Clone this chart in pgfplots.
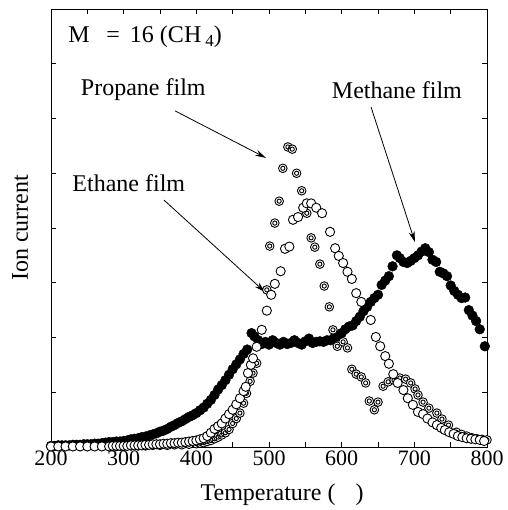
\documentclass[border=0pt]{standalone}
\usepackage{pgfplots}
\pgfplotsset{compat=1.18}
\usepackage{pgfplotstable}
\usepackage{fontspec}
\setmainfont{Liberation Serif}
\usetikzlibrary{arrows.meta}

% methane film (filled circles)
\pgfplotstableread{
T I
200 0.02
205 0.02
210 0.03
215 0.03
220 0.03
225 0.03
230 0.04
235 0.04
240 0.04
245 0.05
250 0.05
255 0.05
260 0.06
265 0.06
270 0.07
275 0.08
280 0.09
285 0.09
290 0.10
295 0.10
300 0.11
305 0.12
310 0.14
315 0.15
320 0.16
325 0.18
330 0.19
335 0.21
340 0.23
345 0.25
350 0.28
355 0.30
360 0.33
365 0.37
370 0.40
375 0.44
380 0.47
385 0.51
390 0.55
395 0.58
400 0.62
405 0.67
410 0.72
415 0.79
420 0.86
425 0.95
430 1.05
435 1.13
440 1.22
445 1.32
450 1.42
455 1.51
460 1.60
465 1.70
470 1.78
476 2.08
480 2.02
485 1.95
490 1.88
495 1.92
500 1.87
505 1.95
510 1.90
515 1.87
520 1.92
525 1.88
530 1.90
535 1.95
540 1.90
545 1.87
550 1.93
555 1.98
560 1.90
565 1.92
570 1.93
575 1.92
580 1.95
585 1.95
590 2.00
595 2.03
600 2.08
605 2.15
610 2.20
615 2.22
620 2.30
625 2.38
630 2.48
635 2.56
640 2.65
645 2.72
650 2.78
655 2.96
660 3.04
665 3.12
670 3.30
676 3.50
680 3.45
685 3.38
690 3.36
695 3.40
700 3.45
705 3.50
710 3.57
715 3.63
720 3.56
725 3.42
730 3.38
735 3.20
740 3.17
745 3.12
750 2.95
755 2.85
760 2.78
765 2.72
770 2.73
775 2.50
780 2.40
785 2.30
790 2.15
797 1.84
}\methane

% ethane film (open circles)
\pgfplotstableread{
T I
200 0.01
210 0.01
220 0.01
230 0.01
240 0.01
250 0.01
260 0.01
270 0.01
280 0.01
285 0.02
290 0.02
295 0.02
300 0.02
305 0.02
310 0.03
315 0.03
320 0.03
325 0.03
330 0.04
335 0.04
340 0.05
345 0.05
350 0.05
355 0.06
360 0.06
365 0.07
370 0.07
375 0.08
380 0.08
385 0.09
390 0.10
395 0.11
400 0.12
405 0.14
410 0.16
415 0.20
420 0.26
425 0.33
430 0.38
435 0.43
440 0.52
445 0.60
450 0.68
455 0.78
460 0.89
465 1.02
468 1.10
471 1.35
475 1.50
478 1.62
483 1.83
490 2.14
497 2.49
503 2.78
508 2.98
516 3.21
522 3.62
528 3.66
533 4.15
540 4.20
547 4.37
552 4.45
558 4.45
565 4.37
573 4.27
584 3.93
591 3.63
596 3.49
602 3.36
608 3.20
614 3.07
620 2.81
627 2.65
640 2.32
647 2.01
653 1.84
660 1.66
665 1.52
671 1.33
677 1.17
685 1.04
691 0.89
698 0.77
705 0.64
712 0.60
718 0.52
725 0.45
731 0.40
737 0.35
742 0.31
748 0.27
754 0.24
760 0.20
766 0.18
772 0.16
778 0.15
784 0.14
790 0.13
796 0.11
}\ethane

% propane film (double circles)
\pgfplotstableread{
T I
200 0.01
210 0.01
220 0.01
230 0.01
240 0.01
250 0.01
260 0.01
270 0.01
280 0.01
290 0.01
300 0.01
310 0.02
320 0.02
330 0.02
340 0.03
350 0.03
360 0.03
370 0.04
380 0.04
390 0.05
400 0.06
405 0.07
410 0.08
415 0.10
420 0.12
425 0.15
430 0.18
435 0.22
440 0.26
445 0.32
450 0.43
455 0.52
460 0.62
465 0.80
469 0.98
474 1.20
478 1.35
483 1.53
497 2.87
501 3.67
508 4.09
514 4.49
519 5.09
526 5.48
532 5.44
538 5.00
545 4.68
552 4.27
558 3.82
563 3.65
570 3.34
576 2.94
583 2.56
588 2.14
594 1.84
602 1.92
608 1.81
614 1.42
620 1.33
627 1.28
633 1.17
638 0.84
645 0.68
650 0.82
657 1.11
664 1.19
672 1.22
680 1.26
688 1.24
695 1.17
701 1.06
705 0.95
712 0.82
720 0.71
731 0.62
738 0.51
747 0.40
758 0.27
765 0.23
772 0.20
779 0.17
786 0.15
793 0.14
800 0.13
}\propane

\begin{document}
\begin{tikzpicture}
\begin{axis}[
  name=ax,
  scale only axis,
  width=436pt, height=438pt,
  xmin=200, xmax=800, ymin=0, ymax=8,
  xtick={200,300,...,800},
  minor xtick={250,350,...,750},
  ytick={0,1,...,8}, yticklabels={},
  tick align=inside,
  major tick length=5pt, minor tick length=5pt,
  tick style={black, line width=0.8pt},
  axis line style={line width=0.9pt},
  /pgf/number format/assume math mode=true,
  ticklabel style={font=\fontsize{22}{24}\selectfont},
  xlabel={Temperature (\hspace{20pt})},
  ylabel={Ion current},
  label style={font=\fontsize{24}{26}\selectfont},
  xlabel style={at={(axis description cs:0.53,-0.11)}, anchor=center},
  ylabel style={at={(axis description cs:-0.071,0.5)}, anchor=center},
]
\addplot[only marks, mark=*, mark size=4.9pt, mark options={fill=black, draw=black}]
  table[x=T, y=I] {\methane};
\addplot[only marks, mark=*, mark size=4.3pt, mark options={fill=white, draw=black, line width=0.9pt}]
  table[x=T, y=I] {\propane};
\addplot[only marks, mark=o, mark size=2.1pt, mark options={draw=black, line width=0.9pt}]
  table[x=T, y=I] {\propane};
\addplot[only marks, mark=*, mark size=4.6pt, mark options={fill=white, draw=black, line width=0.9pt}]
  table[x=T, y=I] {\ethane};

\node[anchor=west, font=\fontsize{24}{26}\selectfont] at (axis cs:219,7.49)
  {M\hspace{0.7em}= \,16 (CH\,\raisebox{-4pt}{\fontsize{17}{17}\selectfont 4})};
\node[font=\fontsize{24}{26}\selectfont] at (axis cs:327,6.52) {Propane film};
\node[font=\fontsize{24}{26}\selectfont] at (axis cs:307,4.82) {Ethane film};
\node[font=\fontsize{24}{26}\selectfont] at (axis cs:676,6.52) {Methane film};

\draw[-{Stealth[length=11pt,width=6pt]}, line width=0.8pt]
  (axis cs:370.6,6.14) -- (axis cs:495.9,5.28);
\draw[-{Stealth[length=11pt,width=6pt]}, line width=0.8pt]
  (axis cs:355.5,4.51) -- (axis cs:494.5,2.83);
\draw[-{Stealth[length=11pt,width=6pt]}, line width=0.8pt]
  (axis cs:640.4,6.21) -- (axis cs:700.9,3.74);
\end{axis}
\path ([shift={(-51pt,-63pt)}]ax.south west) rectangle ([shift={(20pt,9pt)}]ax.north east);
\end{tikzpicture}
\end{document}
